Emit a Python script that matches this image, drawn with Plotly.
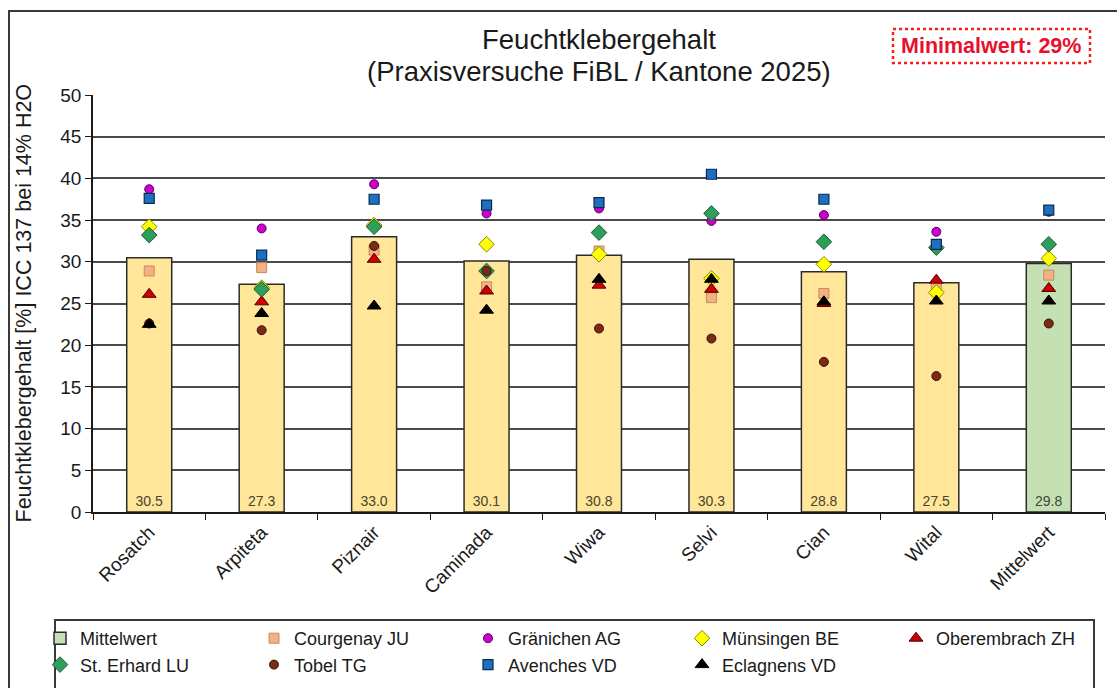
import plotly.graph_objects as go

# ---- data -------------------------------------------------------------
sorten = ["Rosatch", "Arpiteta", "Piznair", "Caminada", "Wiwa", "Selvi", "Cian", "Wital"]
mittel_kategorie = ["Mittelwert"]
kategorien = sorten + mittel_kategorie

# mean wet gluten per variety and overall mean
sorten_mittel = [30.5, 27.3, 33.0, 30.1, 30.8, 30.3, 28.8, 27.5]
gesamt_mittel = [29.8]

# site values (8 varieties + site mean)
standorte = {
    "Courgenay JU":   [28.9, 29.3, 31.4, 27.0, 31.3, 25.7, 26.2, 27.0, 28.4],
    "Gränichen AG":   [38.7, 34.0, 39.3, 35.8, 36.4, 34.9, 35.6, 33.6, 36.0],
    "Münsingen BE":   [34.2, 26.9, 34.4, 32.1, 30.9, 28.0, 29.7, 26.3, 30.4],
    "Oberembrach ZH": [26.1, 25.2, 30.3, 26.5, 27.2, 26.7, 25.0, 27.8, 26.8],
    "St. Erhard LU":  [33.2, 26.7, 34.2, 28.9, 33.5, 35.8, 32.4, 31.7, 32.1],
    "Tobel TG":       [22.6, 21.8, 31.9, 28.9, 22.0, 20.8, 18.0, 16.3, 22.6],
    "Avenches VD":    [37.6, 30.8, 37.5, 36.8, 37.1, 40.5, 37.5, 32.1, 36.2],
    "Eclagnens VD":   [22.5, 23.8, 24.7, 24.2, 27.9, 27.9, 25.2, 25.3, 25.3],
}

minimalwert_text = "Minimalwert: 29%"

# ---- styles -----------------------------------------------------------
marker_styles = {
    "Courgenay JU":   dict(symbol="square", size=10, color="#F4B183", line=dict(color="#C98A5C", width=1)),
    "Gränichen AG":   dict(symbol="circle", size=9, color="#CC00CC", line=dict(color="#5A005A", width=1)),
    "Münsingen BE":   dict(symbol="diamond", size=12, color="#FFFF00", line=dict(color="#8A8A00", width=1)),
    "Oberembrach ZH": dict(symbol="triangle-up", size=12, color="#CC0000", line=dict(color="#500000", width=1)),
    "St. Erhard LU":  dict(symbol="diamond", size=12, color="#2E9E5B", line=dict(color="#1D5A34", width=1)),
    "Tobel TG":       dict(symbol="circle", size=9, color="#7B2A14", line=dict(color="#3A1208", width=1)),
    "Avenches VD":    dict(symbol="square", size=10, color="#1F6FC0", line=dict(color="#0A2A55", width=1.2)),
    "Eclagnens VD":   dict(symbol="triangle-up", size=12, color="#000000", line=dict(color="#000000", width=1)),
}

FONT = "Liberation Sans, Arial, sans-serif"
W, H = 1117, 688
L, R, T, B = 93, 12, 95, 176
PW, PH = W - L - R, H - T - B


def px(x):
    return (x - L) / PW


def py(y):
    return (H - B - y) / PH


fig = go.Figure()

fig.add_trace(go.Bar(
    x=sorten, y=sorten_mittel, width=0.4, showlegend=False,
    marker=dict(color="#FFE699", line=dict(color="#2b2b2b", width=1.5)),
    texttemplate="%{y:.1f}", textposition="inside", insidetextanchor="start",
    textangle=0, textfont=dict(family=FONT, size=14, color="#4a4430"),
    hoverinfo="x+y",
))
fig.add_trace(go.Bar(
    x=mittel_kategorie, y=gesamt_mittel, width=0.4, name="Mittelwert",
    marker=dict(color="#C5E0B3", line=dict(color="#2b2b2b", width=1.5)),
    texttemplate="%{y:.1f}", textposition="inside", insidetextanchor="start",
    textangle=0, textfont=dict(family=FONT, size=14, color="#3a4a34"),
))

for name, values in standorte.items():
    fig.add_trace(go.Scatter(
        x=kategorien, y=values, mode="markers", name=name,
        marker=marker_styles[name],
    ))

shapes = [
    # outer chart frame
    dict(type="rect", xref="paper", yref="paper",
         x0=px(9), x1=px(1130), y0=py(11), y1=py(720),
         line=dict(color="#3a3a3a", width=2), layer="below"),
    # legend frame
    dict(type="rect", xref="paper", yref="paper",
         x0=px(55), x1=px(1094), y0=py(620), y1=py(720),
         line=dict(color="#3a3a3a", width=2)),
    # dotted box around the minimum value note
    dict(type="rect", xref="paper", yref="paper",
         x0=px(893), x1=px(1090), y0=py(29), y1=py(63),
         line=dict(color="#FF1A1A", width=2.5, dash="dot")),
]

annotations = [
    dict(text="Feuchtklebergehalt", x=0.5, y=py(40), xref="paper", yref="paper",
         xanchor="center", yanchor="middle",
         showarrow=False, font=dict(family=FONT, size=27.5, color="#1a1a1a")),
    dict(text="(Praxisversuche FiBL / Kantone 2025)", x=0.5, y=py(72), xref="paper", yref="paper",
         xanchor="center", yanchor="middle",
         showarrow=False, font=dict(family=FONT, size=27.5, color="#1a1a1a")),
    dict(text="<b>" + minimalwert_text + "</b>", x=px(991), y=py(46), xref="paper", yref="paper",
         xanchor="center", yanchor="middle",
         showarrow=False, font=dict(family=FONT, size=21.5, color="#E8112D")),
    dict(text="Feuchtklebergehalt [%] ICC 137 bei 14% H2O", textangle=-90,
         x=px(23), y=0.5, xref="paper", yref="paper", showarrow=False,
         xanchor="center", yanchor="middle",
         font=dict(family=FONT, size=21.5, color="#1a1a1a")),
]

fig.update_layout(
    width=W, height=H,
    margin=dict(l=L, r=R, t=T, b=B, pad=0, autoexpand=False),
    paper_bgcolor="white", plot_bgcolor="white",
    barmode="overlay",
    font=dict(family=FONT, color="#1a1a1a"),
    shapes=shapes, annotations=annotations,
    legend=dict(
        orientation="h", x=px(40), xanchor="left", y=py(620), yanchor="top",
        font=dict(family=FONT, size=18, color="#1a1a1a"),
        entrywidth=169, entrywidthmode="pixels",
        bgcolor="rgba(0,0,0,0)", borderwidth=0, traceorder="normal",
    ),
    xaxis=dict(
        type="category", categoryorder="array", categoryarray=kategorien,
        range=[-0.5, len(kategorien) - 0.5], automargin=False,
        showline=True, linecolor="#1a1a1a", linewidth=1.5,
        ticks="outside", tickson="boundaries", ticklen=6, tickcolor="#1a1a1a",
        tickangle=-45, tickfont=dict(family=FONT, size=19, color="#1a1a1a"),
        showgrid=False, zeroline=False,
    ),
    yaxis=dict(
        range=[0, 50], dtick=5, tick0=0, automargin=False,
        showline=True, linecolor="#1a1a1a", linewidth=1.5,
        ticks="outside", ticklen=6, tickcolor="#1a1a1a",
        tickfont=dict(family=FONT, size=19, color="#1a1a1a"),
        showgrid=True, gridcolor="#4a4a4a", gridwidth=1.5, zeroline=False,
    ),
)

fig.write_html("out.html")
